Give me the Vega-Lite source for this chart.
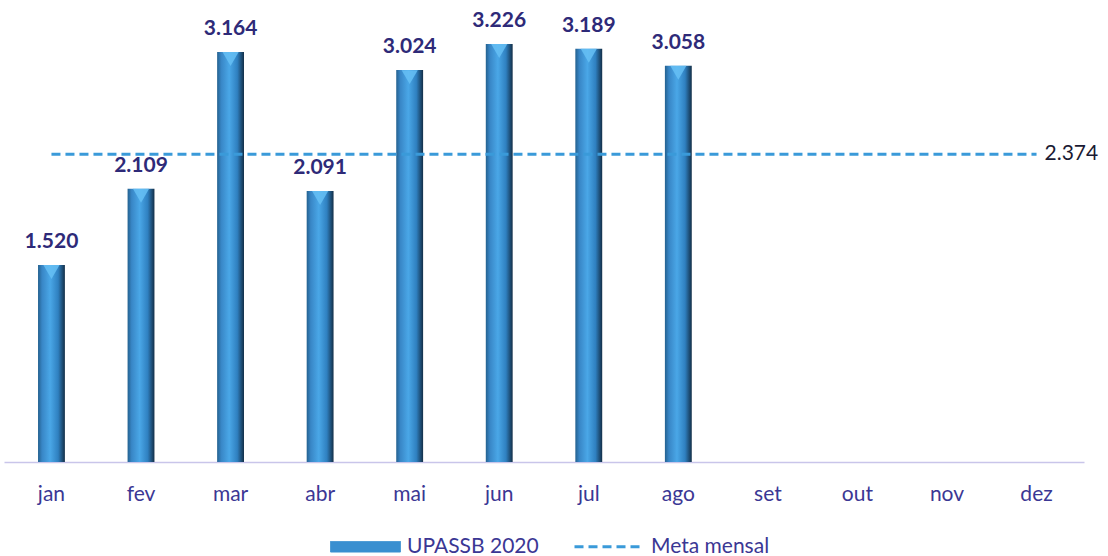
{
  "$schema": "https://vega.github.io/schema/vega-lite/v6.json",
  "width": 1080,
  "height": 462,
  "autosize": {"type": "none"},
  "padding": {"left": 4, "top": 0, "right": 24, "bottom": 94},
  "background": "white",
  "config": {
    "view": {"stroke": null},
    "font": "Lato",
    "locale": {"number": {"decimal": ",", "thousands": ".", "grouping": [3], "currency": ["R$", ""]}}
  },
  "data": {
    "values": [
      {"mes": "jan", "valor": 1520, "meta": 2374, "serie": "Meta mensal"},
      {"mes": "fev", "valor": 2109, "meta": 2374, "serie": "Meta mensal"},
      {"mes": "mar", "valor": 3164, "meta": 2374, "serie": "Meta mensal"},
      {"mes": "abr", "valor": 2091, "meta": 2374, "serie": "Meta mensal"},
      {"mes": "mai", "valor": 3024, "meta": 2374, "serie": "Meta mensal"},
      {"mes": "jun", "valor": 3226, "meta": 2374, "serie": "Meta mensal"},
      {"mes": "jul", "valor": 3189, "meta": 2374, "serie": "Meta mensal"},
      {"mes": "ago", "valor": 3058, "meta": 2374, "serie": "Meta mensal"},
      {"mes": "set", "valor": null, "meta": 2374, "serie": "Meta mensal"},
      {"mes": "out", "valor": null, "meta": 2374, "serie": "Meta mensal"},
      {"mes": "nov", "valor": null, "meta": 2374, "serie": "Meta mensal"},
      {"mes": "dez", "valor": null, "meta": 2374, "serie": "Meta mensal"}
    ]
  },
  "encoding": {
    "x": {
      "field": "mes", "type": "nominal", "sort": null,
      "scale": {"paddingInner": 0.7, "paddingOuter": 0.38},
      "axis": {
        "title": null, "labelAngle": 0, "ticks": false, "grid": false,
        "domainColor": "#c9c5ea", "domainWidth": 1.5,
        "labelColor": "#3b3794", "labelFontSize": 21, "labelPadding": 21, "labelFont": "Lato"
      }
    }
  },
  "layer": [
    {
      "mark": {
        "type": "bar",
        "fill": {
          "gradient": "linear", "x1": 0, "x2": 1, "y1": 0, "y2": 0,
          "stops": [
            {"offset": 0, "color": "#24618f"},
            {"offset": 0.15, "color": "#3886c6"},
            {"offset": 0.45, "color": "#4aa7e7"},
            {"offset": 0.75, "color": "#2f80c0"},
            {"offset": 1, "color": "#132f48"}
          ]
        }
      },
      "encoding": {
        "y": {
          "field": "valor", "type": "quantitative",
          "scale": {"domain": [0, 3565], "nice": false},
          "axis": null
        }
      }
    },
    {
      "mark": {"type": "point", "shape": "triangle-down", "filled": true, "fill": "#66c0f4", "opacity": 0.85, "size": 260, "yOffset": 7},
      "encoding": {
        "y": {"field": "valor", "type": "quantitative"}
      }
    },
    {
      "mark": {"type": "text", "fontWeight": "bold", "fontSize": 21, "color": "#2e2a78", "baseline": "bottom", "dy": -13},
      "encoding": {
        "y": {"field": "valor", "type": "quantitative"},
        "text": {"field": "valor", "type": "quantitative", "format": ",.0f"}
      }
    },
    {
      "mark": {"type": "line", "strokeWidth": 3, "strokeDash": [9, 5]},
      "encoding": {
        "y": {"field": "meta", "type": "quantitative"},
        "color": {
          "field": "serie", "type": "nominal",
          "scale": {"domain": ["UPASSB 2020", "Meta mensal"], "range": ["#3a8fd0", "#3a9ad9"]},
          "legend": {
            "title": null, "orient": "none", "legendX": 351, "legendY": 536, "direction": "horizontal",
            "labelFontSize": 21, "labelColor": "#3b3794", "labelFont": "Lato",
            "symbolSize": 4900, "columnPadding": 29, "labelOffset": 31,
            "encode": {
              "symbols": {
                "update": {
                  "shape": {"signal": "datum.value === 'Meta mensal' ? 'stroke' : 'M-1,-0.15H1V0.15H-1Z'"},
                  "fill": {"signal": "datum.value === 'Meta mensal' ? 'transparent' : '#3a8fd0'"},
                  "stroke": {"signal": "datum.value === 'Meta mensal' ? '#3a9ad9' : '#1d4a6e'"},
                  "strokeWidth": {"signal": "datum.value === 'Meta mensal' ? 3 : 1"},
                  "strokeDash": {"signal": "datum.value === 'Meta mensal' ? [9, 5] : [1, 0]"}
                }
              }
            }
          }
        }
      }
    },
    {
      "transform": [{"filter": "datum.mes === 'dez'"}],
      "mark": {"type": "text", "fontSize": 21, "color": "#1a1a33", "align": "left", "baseline": "middle", "dx": 8, "font": "Lato"},
      "encoding": {
        "y": {"field": "meta", "type": "quantitative"},
        "text": {"field": "meta", "type": "quantitative", "format": ",.0f"}
      }
    }
  ]
}
